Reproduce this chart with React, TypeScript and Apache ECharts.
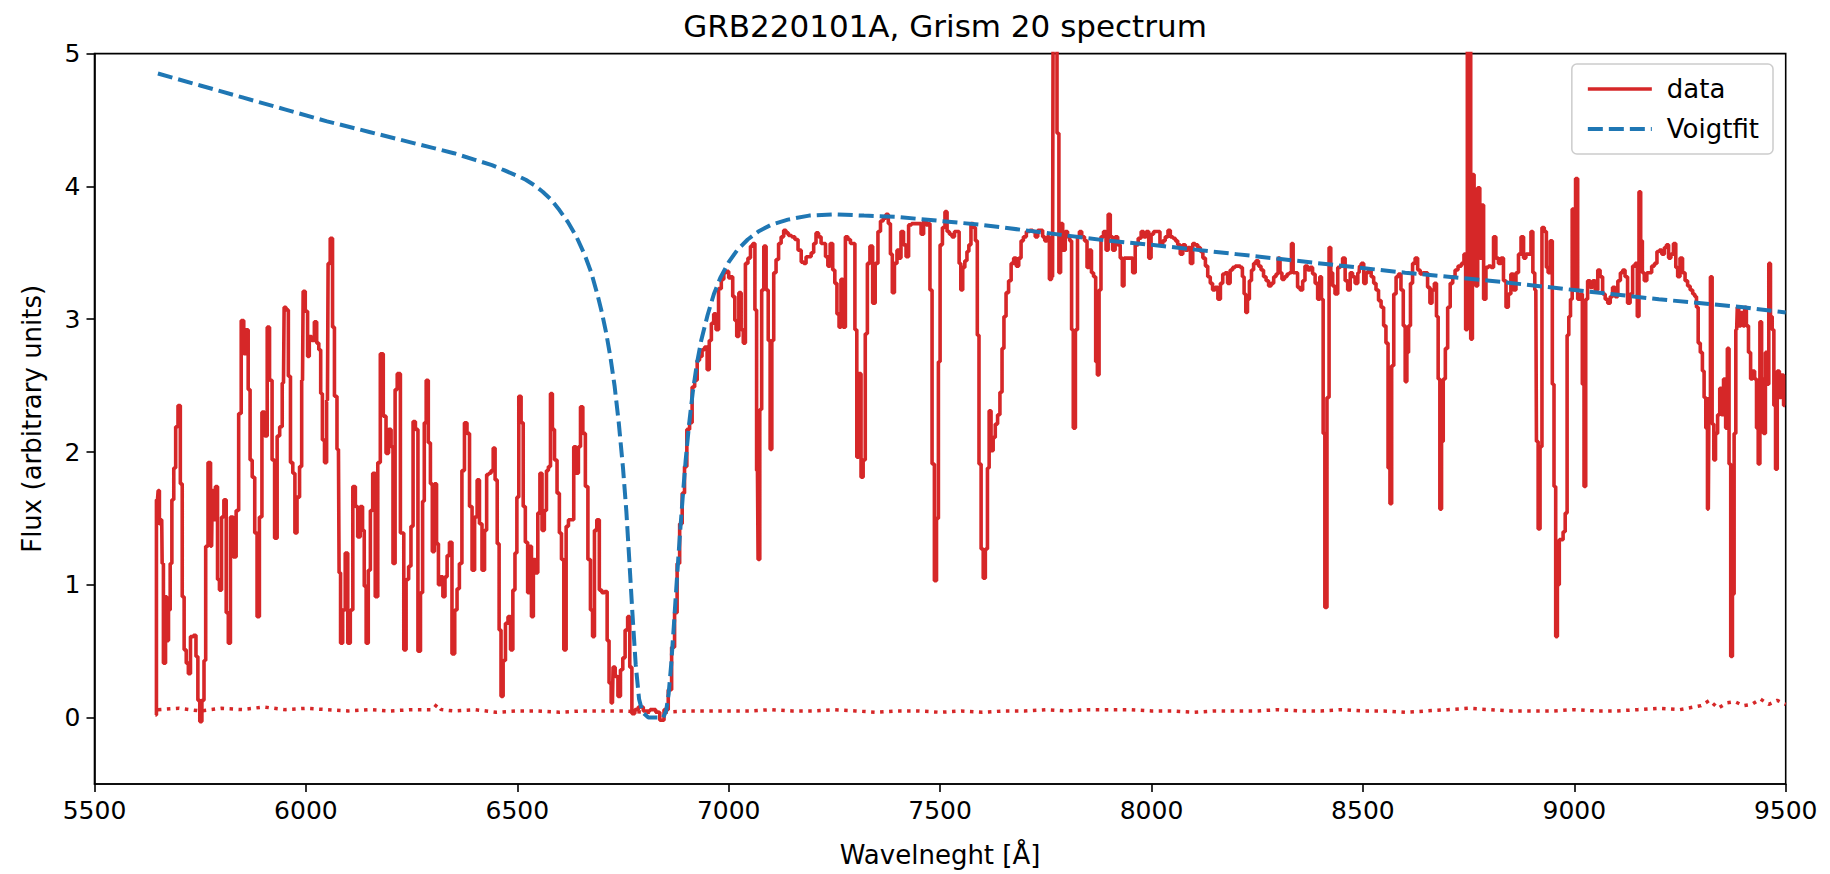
import React, { useEffect, useRef } from "react";
import * as echarts from "echarts";

// ---------- data ----------
const titleText = "GRB220101A, Grism 20 spectrum";
const xAxisName = "Wavelneght [Å]";
const yAxisName = "Flux (arbitrary units)";
const legendNames = ["data", "Voigtfit"];
const yTickValues = [0, 1, 2, 3, 4, 5];

// observed flux: [wavelength Å, flux]
const fluxBlue: [number, number][] = [
  [5644, 0.02], [5649, 1.64], [5652, 1.71], [5655, 1.46], [5659, 1.49], [5661, 1.16], [5665, 0.41], [5671, 0.91],
  [5673, 0.58], [5677, 0.81], [5681, 1.16], [5685, 1.64], [5690, 1.88], [5694, 2.19], [5701, 2.35], [5705, 1.76],
  [5710, 0.91], [5714, 0.51], [5720, 0.41], [5724, 0.33], [5730, 0.61], [5738, 0.62], [5742, 0.46], [5747, 0.13],
  [5751, -0.03], [5757, 0.13], [5761, 0.43], [5765, 1.29], [5772, 1.92], [5777, 1.29], [5780, 1.71], [5783, 1.49],
  [5789, 1.74], [5793, 1.04], [5798, 0.96], [5803, 1.51], [5809, 1.64], [5814, 0.79], [5819, 0.56], [5824, 1.51],
  [5832, 1.21], [5838, 1.56], [5844, 2.29], [5850, 2.99], [5856, 2.74], [5861, 2.92], [5866, 2.47], [5870, 1.94],
  [5876, 1.81], [5882, 1.39], [5887, 0.76], [5893, 1.51], [5899, 2.30], [5906, 2.12], [5911, 2.94], [5917, 2.54],
  [5923, 1.94], [5929, 1.35], [5935, 2.12], [5941, 2.19], [5947, 2.52], [5950, 3.09], [5956, 3.07], [5961, 2.57],
  [5966, 1.92], [5972, 1.84], [5976, 1.39], [5982, 1.66], [5988, 1.89], [5992, 2.54], [5995, 3.21], [6002, 3.06],
  [6006, 2.72], [6010, 2.87], [6017, 2.84], [6023, 2.98], [6028, 2.82], [6033, 2.77], [6037, 2.44], [6041, 2.09],
  [6047, 1.92], [6051, 2.39], [6054, 3.42], [6061, 3.61], [6065, 2.94], [6070, 2.42], [6077, 2.02], [6080, 1.09],
  [6084, 0.56], [6090, 0.81], [6096, 1.24], [6102, 0.56], [6108, 0.81], [6114, 1.74], [6120, 1.59], [6125, 1.36],
  [6132, 1.59], [6136, 1.41], [6140, 0.99], [6145, 0.56], [6150, 1.11], [6155, 1.56], [6161, 1.84], [6167, 0.91],
  [6173, 1.92], [6179, 2.74], [6187, 2.27], [6192, 1.99], [6199, 2.17], [6204, 2.04], [6208, 1.16], [6214, 2.47],
  [6218, 2.59],
];

const fluxTrough: [number, number][] = [
  [6229, 1.39], [6234, 0.51], [6240, 1.04], [6246, 1.14], [6251, 1.44], [6256, 2.23], [6262, 2.17], [6268, 0.50],
  [6274, 0.94], [6278, 1.63], [6282, 2.22], [6287, 2.54], [6292, 2.07], [6297, 1.76], [6301, 1.25], [6307, 1.76],
  [6311, 1.31], [6316, 1.00], [6321, 1.06], [6327, 0.91], [6331, 1.06], [6337, 1.22], [6342, 1.32], [6349, 0.48],
  [6355, 0.81], [6360, 0.97], [6366, 1.16], [6372, 1.86], [6378, 2.22], [6384, 2.14], [6390, 1.59], [6396, 1.11],
  [6402, 1.51], [6408, 1.79], [6413, 1.46], [6420, 1.11], [6425, 1.41], [6430, 1.83], [6435, 1.84], [6441, 1.86],
  [6445, 2.03], [6450, 1.79], [6455, 1.31], [6459, 0.66], [6464, 0.16], [6469, 0.43], [6475, 0.71], [6481, 0.76],
  [6487, 0.51], [6492, 0.96], [6497, 1.24], [6501, 1.66], [6506, 2.42], [6512, 2.22], [6516, 1.59], [6522, 1.32],
  [6527, 0.94], [6531, 1.29], [6536, 0.76], [6540, 1.19], [6546, 1.09], [6551, 1.54], [6556, 1.84], [6561, 1.41],
  [6567, 1.56], [6571, 1.86], [6576, 1.89], [6581, 2.44], [6585, 2.17], [6591, 1.94], [6597, 1.69], [6602, 1.39],
  [6607, 1.19], [6613, 0.51], [6618, 1.44], [6624, 1.49], [6631, 1.49], [6636, 2.04], [6642, 1.84], [6647, 2.04],
  [6652, 2.34], [6658, 2.14], [6664, 1.74], [6670, 1.19], [6676, 0.81], [6680, 0.61], [6685, 1.41], [6691, 1.49],
  [6697, 0.96], [6703, 0.94], [6710, 0.95], [6715, 0.58], [6719, 0.26], [6725, 0.11], [6728, 0.38], [6735, 0.31],
  [6741, 0.16], [6747, 0.36], [6752, 0.45], [6758, 0.66], [6764, 0.76], [6768, 0.38], [6774, 0.03], [6782, 0.06],
  [6790, 0.08], [6806, 0.05], [6822, 0.06], [6833, 0.04], [6841, -0.02], [6853, 0.06],
];

const fluxRise: [number, number][] = [
  [6861, 0.21], [6869, 0.53], [6875, 0.79], [6881, 1.16], [6887, 1.46], [6893, 1.69], [6898, 1.89], [6904, 2.17],
  [6911, 2.22], [6916, 2.49], [6923, 2.54], [6928, 2.69], [6934, 2.72], [6940, 2.77], [6946, 2.79], [6952, 2.62],
  [6956, 2.84], [6962, 2.97], [6967, 3.04], [6973, 2.92], [6979, 3.23], [6986, 3.30], [6991, 3.35], [6997, 3.36],
  [7003, 3.31], [7007, 3.32], [7012, 3.17], [7017, 2.99], [7021, 2.87], [7027, 3.20], [7032, 2.92], [7037, 2.82],
  [7042, 3.42], [7049, 3.46], [7054, 3.55], [7060, 3.57], [7064, 3.07], [7068, 1.86], [7071, 1.19], [7076, 2.32],
  [7080, 3.22], [7086, 3.55], [7091, 3.22], [7096, 2.84], [7100, 2.02], [7104, 2.84], [7109, 3.35], [7115, 3.45],
  [7121, 3.57], [7127, 3.62], [7133, 3.67], [7138, 3.65], [7145, 3.63], [7153, 3.62], [7160, 3.60], [7168, 3.52],
  [7175, 3.43], [7180, 3.42], [7186, 3.47], [7192, 3.47], [7198, 3.50], [7204, 3.57], [7209, 3.65], [7216, 3.62],
  [7221, 3.57], [7226, 3.57], [7232, 3.47], [7237, 3.40], [7243, 3.57], [7249, 3.37], [7253, 3.27], [7259, 3.04],
  [7263, 2.94], [7268, 3.30], [7273, 2.94], [7279, 3.62], [7285, 3.60], [7291, 3.57], [7296, 3.57], [7301, 2.92],
  [7305, 1.96], [7310, 2.59], [7316, 1.81], [7320, 1.94], [7326, 2.89], [7330, 3.42], [7338, 3.55], [7343, 3.12],
  [7350, 3.42],
];

const fluxMid: [number, number][] = [
  [7356, 3.66], [7362, 3.74], [7369, 3.76], [7375, 3.79], [7380, 3.72], [7385, 3.49], [7389, 3.20], [7395, 3.42],
  [7401, 3.52], [7405, 3.46], [7410, 3.66], [7417, 3.56], [7422, 3.47], [7429, 3.71], [7436, 3.72], [7444, 3.72],
  [7452, 3.72], [7458, 3.64], [7464, 3.74], [7470, 3.71], [7474, 3.72], [7478, 3.22], [7484, 1.91], [7489, 1.03],
  [7494, 1.50], [7498, 2.68], [7502, 3.56], [7509, 3.69], [7514, 3.81], [7519, 3.66], [7525, 3.64], [7531, 3.62],
  [7537, 3.66], [7543, 3.66], [7547, 3.42], [7551, 3.22], [7556, 3.39], [7561, 3.44], [7566, 3.51], [7570, 3.56],
  [7576, 3.72], [7581, 3.69], [7586, 3.59], [7590, 2.88], [7594, 1.91], [7600, 1.27], [7604, 1.05], [7610, 1.27],
  [7614, 1.88], [7618, 2.31], [7623, 2.01], [7628, 2.11], [7633, 2.21], [7639, 2.28], [7644, 2.45], [7649, 2.78],
  [7653, 3.02], [7659, 3.20], [7665, 3.29], [7671, 3.42], [7677, 3.46], [7683, 3.40], [7689, 3.46], [7694, 3.59],
  [7700, 3.62], [7708, 3.66], [7716, 3.67], [7722, 3.66], [7728, 3.62], [7734, 3.67], [7740, 3.67], [7745, 3.62],
  [7750, 3.59], [7756, 3.62], [7761, 3.30], [7766, 3.32], [7769, 5.6], [7774, 5.4], [7779, 4.40], [7783, 3.35],
  [7787, 3.72], [7793, 3.52], [7799, 3.66], [7804, 3.62], [7809, 3.59], [7813, 2.92], [7817, 2.18], [7823, 2.92],
  [7827, 3.62], [7832, 3.66], [7838, 3.62], [7845, 3.59], [7850, 3.39], [7856, 3.52], [7860, 3.35], [7866, 3.32],
  [7870, 2.68], [7874, 2.58], [7878, 3.22], [7883, 3.62], [7890, 3.66], [7895, 3.52], [7900, 3.79], [7905, 3.62],
  [7911, 3.52], [7917, 3.62], [7923, 3.56],
];

const fluxRed: [number, number][] = [
  [7929, 3.46], [7933, 3.25], [7937, 3.46], [7945, 3.46], [7953, 3.46], [7958, 3.35], [7965, 3.56], [7972, 3.61],
  [7979, 3.66], [7984, 3.62], [7991, 3.66], [7996, 3.46], [8002, 3.64], [8008, 3.66], [8016, 3.66], [8024, 3.56],
  [8029, 3.59], [8036, 3.62], [8042, 3.67], [8047, 3.62], [8054, 3.61], [8059, 3.59], [8065, 3.56], [8071, 3.49],
  [8077, 3.56], [8083, 3.52], [8089, 3.54], [8095, 3.42], [8100, 3.57], [8106, 3.56], [8113, 3.54], [8118, 3.51],
  [8125, 3.46], [8130, 3.40], [8136, 3.32], [8142, 3.27], [8147, 3.22], [8154, 3.24], [8160, 3.15], [8166, 3.27],
  [8171, 3.34], [8177, 3.35], [8183, 3.27], [8189, 3.37], [8195, 3.39], [8201, 3.40], [8207, 3.40], [8213, 3.39],
  [8217, 3.32], [8221, 3.19], [8225, 3.05], [8229, 3.15], [8234, 3.29], [8239, 3.37], [8244, 3.42], [8250, 3.44],
  [8256, 3.40], [8262, 3.37], [8268, 3.32], [8274, 3.29], [8280, 3.25], [8286, 3.27], [8292, 3.32], [8297, 3.34],
  [8302, 3.46], [8306, 3.35], [8311, 3.30], [8318, 3.32], [8323, 3.34], [8329, 3.35], [8333, 3.57], [8337, 3.35],
  [8343, 3.35], [8348, 3.24], [8355, 3.22], [8360, 3.29], [8366, 3.40], [8373, 3.37], [8378, 3.39], [8384, 3.34],
  [8390, 3.27], [8396, 3.15], [8400, 3.32], [8404, 3.15], [8408, 2.14], [8412, 0.83], [8418, 2.41], [8422, 3.54],
  [8426, 3.35], [8431, 3.25], [8437, 3.19], [8444, 3.39], [8449, 3.40], [8455, 3.46], [8461, 3.29], [8467, 3.22],
  [8473, 3.35], [8478, 3.32], [8485, 3.27], [8491, 3.35],
];

const fluxFar: [number, number][] = [
  [8493, 3.40], [8499, 3.42], [8505, 3.27], [8510, 3.35], [8516, 3.37], [8523, 3.32], [8528, 3.27], [8534, 3.22],
  [8540, 3.14], [8546, 3.09], [8552, 2.95], [8557, 2.82], [8562, 1.88], [8566, 1.61], [8570, 2.65], [8576, 3.19],
  [8581, 3.32], [8587, 3.34], [8593, 3.22], [8598, 2.95], [8602, 2.53], [8606, 2.75], [8610, 2.95], [8615, 3.27],
  [8620, 3.42], [8627, 3.46], [8632, 3.37], [8639, 3.34], [8644, 3.35], [8650, 3.35], [8656, 3.24], [8661, 3.12],
  [8666, 3.22], [8672, 3.27], [8676, 3.02], [8680, 2.55], [8684, 1.57], [8688, 2.08], [8692, 2.55], [8698, 2.78],
  [8703, 3.09], [8710, 3.27], [8715, 3.32], [8721, 3.37], [8729, 3.40], [8737, 3.42], [8741, 3.49], [8745, 2.92],
  [8749, 5.6], [8753, 5.4], [8757, 2.85], [8761, 4.09], [8765, 3.56], [8769, 3.25], [8774, 3.99], [8779, 3.46],
  [8783, 3.86], [8788, 3.15], [8794, 3.39], [8800, 3.40], [8806, 3.39], [8812, 3.62], [8817, 3.46], [8824, 3.42],
  [8829, 3.46], [8836, 3.29], [8841, 3.09], [8847, 3.19], [8853, 3.34], [8859, 3.22], [8865, 3.35], [8871, 3.49],
  [8877, 3.62], [8883, 3.46], [8888, 3.49], [8895, 3.49], [8900, 3.66], [8904, 3.35], [8909, 3.22], [8912, 2.08],
  [8917, 1.42], [8921, 2.04], [8926, 3.69], [8932, 3.66], [8936, 3.39], [8940, 3.35], [8946, 3.59], [8950, 2.51],
  [8954, 1.74], [8958, 0.61], [8962, 1.00], [8967, 1.34], [8971, 1.34], [8976, 1.40], [8981, 1.54], [8985, 2.88],
  [8989, 3.02], [8993, 3.15], [8997, 3.83], [9001, 3.22], [9005, 4.06], [9011, 3.15],
];

const fluxEdge: [number, number][] = [
  [9017, 3.19], [9021, 2.51], [9025, 1.74], [9029, 3.15], [9034, 3.29], [9041, 3.24], [9046, 3.29], [9053, 3.22],
  [9058, 3.37], [9064, 3.32], [9070, 3.19], [9076, 3.15], [9082, 3.12], [9088, 3.17], [9093, 3.24], [9100, 3.17],
  [9106, 3.29], [9112, 3.35], [9117, 3.37], [9123, 3.32], [9129, 3.12], [9135, 3.19], [9141, 3.40], [9147, 3.42],
  [9151, 3.02], [9155, 3.96], [9159, 3.59], [9163, 3.35], [9168, 3.29], [9175, 3.35], [9180, 3.35], [9186, 3.40],
  [9193, 3.42], [9198, 3.51], [9204, 3.52], [9210, 3.49], [9216, 3.54], [9220, 3.56], [9226, 3.46], [9231, 3.49],
  [9238, 3.57], [9242, 3.39], [9247, 3.32], [9253, 3.46], [9259, 3.35], [9265, 3.29], [9271, 3.25], [9277, 3.22],
  [9283, 3.19], [9287, 3.17], [9291, 3.09], [9295, 2.82], [9301, 2.75], [9305, 2.61], [9309, 2.41], [9313, 2.18],
  [9317, 1.57], [9320, 2.41], [9324, 3.32], [9328, 2.21], [9332, 1.94], [9336, 2.14], [9342, 2.28], [9346, 2.48],
  [9350, 2.28], [9356, 2.55], [9360, 2.18], [9364, 2.78], [9368, 1.91], [9372, 0.46], [9376, 0.93], [9380, 2.14],
  [9384, 2.92], [9387, 3.09], [9391, 2.95], [9397, 3.05], [9401, 2.95], [9405, 3.09], [9409, 2.95], [9415, 2.75],
  [9419, 2.55], [9424, 2.61], [9429, 2.55], [9433, 2.18], [9437, 1.91], [9441, 2.98], [9445, 2.55], [9450, 2.14],
  [9454, 2.75], [9458, 2.51], [9462, 3.42], [9466, 3.02], [9470, 2.92], [9474, 2.35], [9478, 1.87], [9482, 2.61],
  [9488, 2.41], [9492, 2.58], [9498, 2.35],
];

// Voigt profile fit: [wavelength Å, flux]
const voigtFit: [number, number][] = [
  [5650, 4.85], [5750, 4.76], [5850, 4.67], [5950, 4.58], [6050, 4.49], [6150, 4.41], [6250, 4.33], [6300, 4.29],
  [6350, 4.25], [6400, 4.20], [6440, 4.16], [6470, 4.12], [6500, 4.08], [6520, 4.05], [6540, 4.01], [6560, 3.96],
  [6580, 3.90], [6600, 3.82], [6620, 3.73], [6640, 3.62], [6660, 3.48], [6675, 3.35], [6690, 3.18], [6700, 3.05],
  [6710, 2.90], [6720, 2.72], [6730, 2.50], [6740, 2.22], [6750, 1.88], [6758, 1.55], [6765, 1.18], [6772, 0.80],
  [6780, 0.40], [6788, 0.14], [6796, 0.04], [6810, 0.0], [6845, 0.0], [6852, 0.05], [6858, 0.18], [6864, 0.40],
  [6870, 0.68], [6877, 1.02], [6884, 1.35], [6891, 1.65], [6898, 1.93], [6906, 2.20], [6915, 2.45], [6925, 2.67],
  [6935, 2.84], [6950, 3.03], [6965, 3.19], [6980, 3.31], [7000, 3.43], [7020, 3.52], [7045, 3.60], [7070, 3.66],
  [7100, 3.71], [7140, 3.75], [7190, 3.78], [7250, 3.79], [7320, 3.78], [7400, 3.77], [7500, 3.74], [7600, 3.71],
  [7700, 3.67], [7800, 3.63], [7900, 3.59], [8000, 3.56], [8200, 3.49], [8400, 3.42], [8600, 3.35], [8800, 3.29],
  [9000, 3.22], [9200, 3.15], [9400, 3.09], [9500, 3.05],
];

// flux error (dotted)
const fluxError: [number, number][] = [
  [5650, 0.06], [5700, 0.07], [5750, 0.05], [5800, 0.07], [5850, 0.06], [5900, 0.08], [5950, 0.06], [6000, 0.07],
  [6050, 0.06], [6100, 0.05], [6150, 0.06], [6200, 0.05], [6250, 0.06], [6300, 0.06], [6310, 0.10], [6320, 0.06],
  [6350, 0.05], [6400, 0.06], [6450, 0.04], [6500, 0.05], [6550, 0.05], [6600, 0.04], [6650, 0.05], [6700, 0.05],
  [6750, 0.05], [6800, 0.04], [6850, 0.04], [6900, 0.05], [6950, 0.05], [7000, 0.05], [7050, 0.05], [7100, 0.06],
  [7150, 0.05], [7200, 0.05], [7250, 0.06], [7300, 0.05], [7350, 0.04], [7400, 0.05], [7450, 0.05], [7500, 0.04],
  [7550, 0.05], [7600, 0.04], [7650, 0.05], [7700, 0.05], [7750, 0.06], [7800, 0.05], [7850, 0.06], [7900, 0.06],
  [7950, 0.06], [8000, 0.05], [8050, 0.05], [8100, 0.04], [8150, 0.05], [8200, 0.05], [8250, 0.05], [8300, 0.06],
  [8350, 0.05], [8400, 0.05], [8450, 0.06], [8500, 0.05], [8550, 0.05], [8600, 0.04], [8650, 0.05], [8700, 0.06],
  [8750, 0.07], [8800, 0.06], [8850, 0.05], [8900, 0.05], [8950, 0.05], [9000, 0.06], [9050, 0.05], [9100, 0.05],
  [9150, 0.06], [9200, 0.07], [9250, 0.06], [9300, 0.09], [9320, 0.13], [9340, 0.07], [9360, 0.11], [9380, 0.12],
  [9400, 0.09], [9420, 0.10], [9440, 0.14], [9460, 0.10], [9480, 0.13], [9500, 0.10],
];

const RED = "#d62728";
const BLUE = "#1f77b4";
const FONT = "DejaVu Sans";
const DATA_W = 3.6;
const FIT_W = 4;
const FIT_DASH = [15, 6];

export default function App() {
  const ref = useRef<HTMLDivElement>(null);

  useEffect(() => {
    if (!ref.current) return;
    const chart = echarts.init(ref.current, undefined, { renderer: "svg" });
    const observed = [
      ...fluxBlue, ...fluxTrough, ...fluxRise, ...fluxMid, ...fluxRed, ...fluxFar, ...fluxEdge,
    ];
    chart.setOption({
      animation: false,
      backgroundColor: "#ffffff",
      textStyle: { fontFamily: FONT, color: "#000" },
      title: {
        text: titleText,
        left: 940,
        textAlign: "center",
        top: 5,
        textStyle: { fontFamily: FONT, fontSize: 31, fontWeight: "normal", color: "#000" },
      },
      legend: {
        data: [
          {
            name: legendNames[0],
            itemStyle: { opacity: 0 },
            lineStyle: { color: RED, width: DATA_W, type: "solid" },
          },
          {
            name: legendNames[1],
            itemStyle: { opacity: 0 },
            lineStyle: { color: BLUE, width: FIT_W, type: FIT_DASH },
          },
        ],
        orient: "vertical",
        right: 57,
        top: 64,
        itemWidth: 64,
        itemHeight: 20,
        itemGap: 14,
        padding: [12, 14, 12, 14],
        backgroundColor: "#ffffff",
        borderColor: "#cccccc",
        borderWidth: 1.5,
        borderRadius: 5,
        textStyle: { fontFamily: FONT, fontSize: 26, color: "#000", padding: [0, 0, 0, 10] },
      },
      grid: {
        left: 94.5,
        right: 44.3,
        top: 53.6,
        bottom: 90,
        show: true,
        borderColor: "#000",
        borderWidth: 1.6,
        backgroundColor: "transparent",
      },
      xAxis: {
        type: "value",
        min: 5500,
        max: 9500,
        interval: 500,
        name: xAxisName,
        nameLocation: "middle",
        nameGap: 58,
        nameTextStyle: { fontFamily: FONT, fontSize: 26, color: "#000" },
        axisLine: { show: true, onZero: false, lineStyle: { color: "#000", width: 1.6 } },
        axisTick: { show: true, inside: false, length: 8, lineStyle: { color: "#000", width: 1.6 } },
        axisLabel: {
          fontFamily: FONT,
          fontSize: 25,
          color: "#000",
          margin: 14,
          formatter: (v: number) => String(v),
        },
        splitLine: { show: false },
      },
      yAxis: {
        type: "value",
        min: -0.5,
        max: 5,
        name: yAxisName,
        nameLocation: "middle",
        nameGap: 50,
        nameTextStyle: { fontFamily: FONT, fontSize: 26, color: "#000" },
        axisLine: { show: true, onZero: false, lineStyle: { color: "#000", width: 1.6 } },
        axisTick: {
          show: true,
          inside: false,
          length: 8,
          customValues: yTickValues,
          lineStyle: { color: "#000", width: 1.6 },
        },
        axisLabel: {
          fontFamily: FONT,
          fontSize: 25,
          color: "#000",
          margin: 14,
          customValues: yTickValues,
          formatter: (v: number) => String(v),
        },
        splitLine: { show: false },
      },
      series: [
        {
          name: "data",
          type: "line",
          data: observed,
          step: "middle",
          showSymbol: false,
          symbol: "none",
          clip: true,
          color: RED,
          lineStyle: { color: RED, width: DATA_W },
          z: 2,
        },
        {
          name: "error",
          type: "line",
          data: fluxError,
          showSymbol: false,
          symbol: "none",
          clip: true,
          color: RED,
          lineStyle: { color: RED, width: 3.5, type: [3.5, 5.5] },
          z: 2,
        },
        {
          name: "Voigtfit",
          type: "line",
          data: voigtFit,
          showSymbol: false,
          symbol: "none",
          clip: true,
          color: BLUE,
          lineStyle: { color: BLUE, width: FIT_W, type: FIT_DASH },
          z: 3,
        },
      ],
    });
    return () => chart.dispose();
  }, []);

  return (
    <div
      ref={ref}
      style={{ position: "fixed", left: 0, top: 0, width: 1830, height: 874, background: "#fff" }}
    />
  );
}
